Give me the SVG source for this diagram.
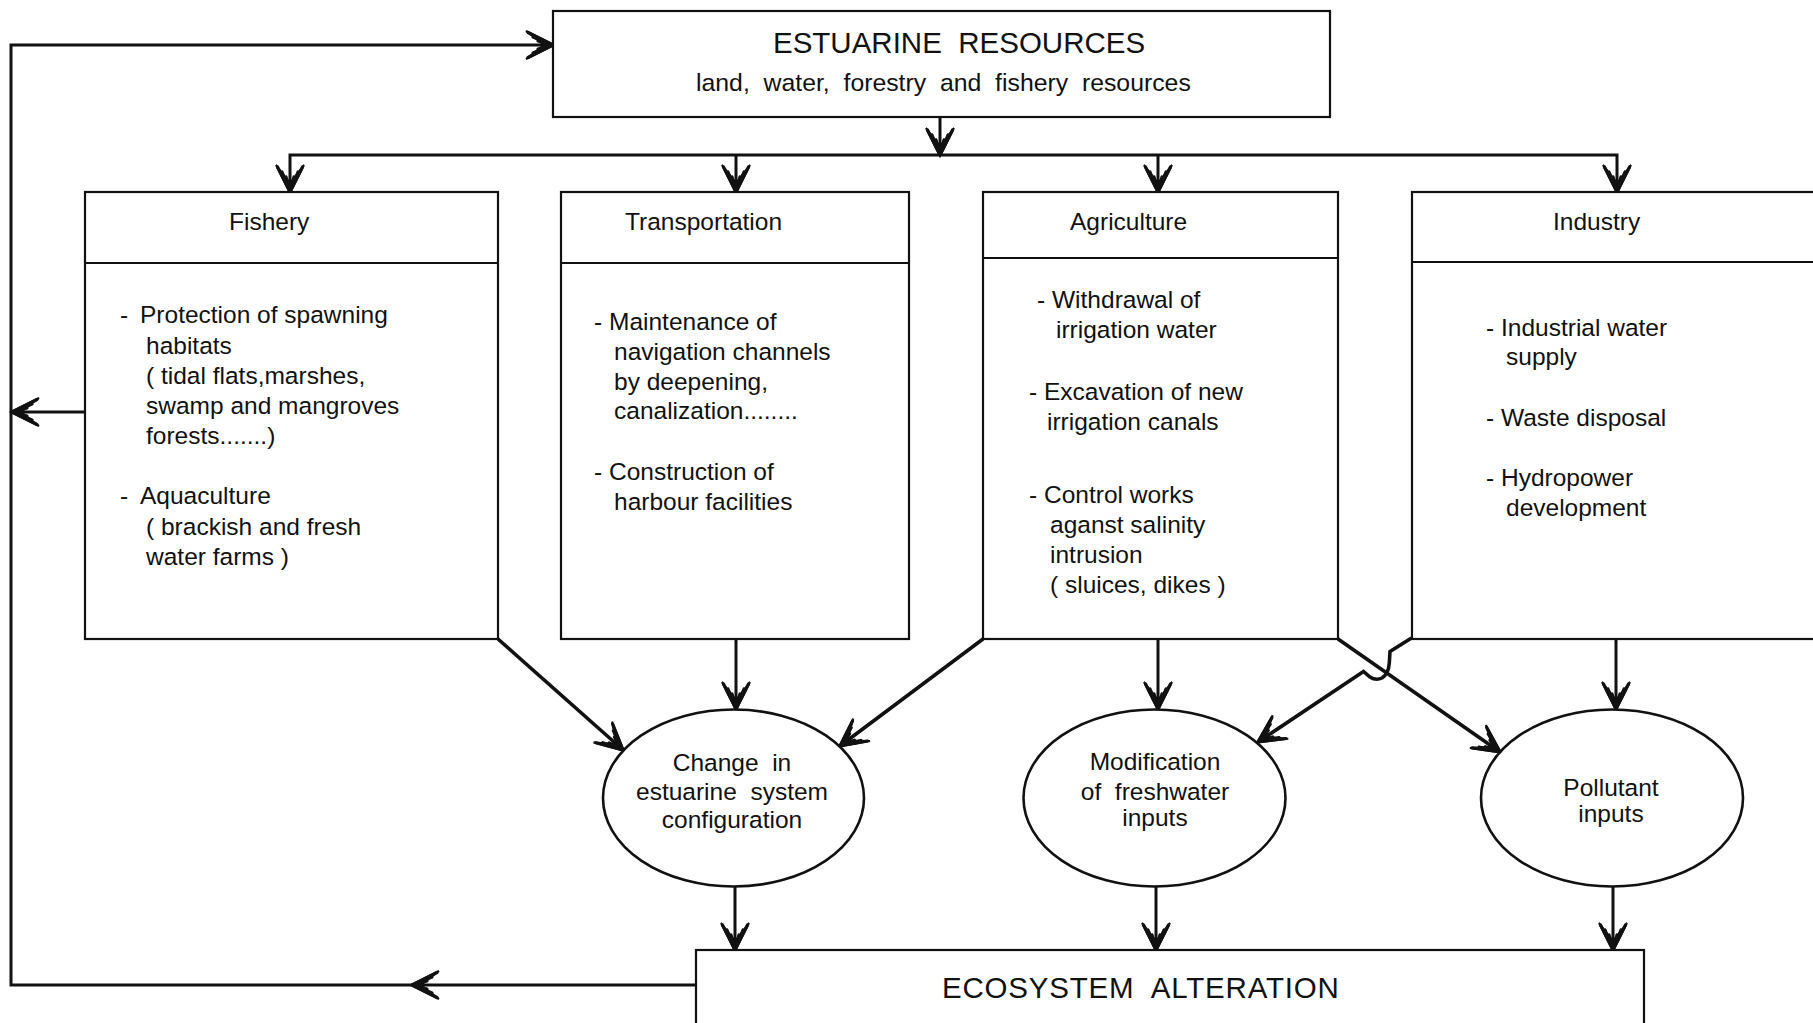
<svg xmlns="http://www.w3.org/2000/svg" width="1813" height="1023" viewBox="0 0 1813 1023">
  <style>
    text { font-family: "Liberation Sans", Arial, sans-serif; fill: #111; }
    .title { font-size: 29.5px; }
    .wide { letter-spacing: 0.8px; }
    .sub { font-size: 24.8px; }
    .head { font-size: 24.5px; }
    .body { font-size: 24.5px; }
    .oval-text { font-size: 24.5px; text-anchor: middle; }
    .box { fill: #fff; stroke: #111; stroke-width: 2.2; }
    .oval { fill: #fff; stroke: #111; stroke-width: 2.6; }
    .rule { stroke: #111; stroke-width: 2.2; fill: none; }
    .wire { stroke: #111; stroke-width: 3; fill: none; }
    .diag { stroke: #111; stroke-width: 3.6; fill: none; }
    .tip-body { fill: #111; stroke: #111; stroke-width: 2; stroke-linejoin: miter; }
    .tip-core { fill: none; stroke: #111; stroke-width: 3.2; stroke-linecap: round; }
  </style>
  <defs>
    <!-- barbed arrowhead with a notched back, tip at the origin pointing along +x -->
    <g id="tip">
      <path class="tip-body" fill="#111" d="M1,0 L-27,-14 L-9,0 L-27,14 Z"/>
      <path class="tip-core" d="M0,0 L-25,-12.5 M0,0 L-20,-8 M0,0 L-15,-4 M0,0 L-10,0 M0,0 L-15,4 M0,0 L-20,8 M0,0 L-25,12.5"/>
    </g>
  </defs>

  <rect width="1813" height="1023" fill="#fff"/>

  <!-- connectors -->
  <g id="connectors">
    <!-- feedback loop round the left side -->
    <path class="wire" d="M696,985 L11,985 L11,45 L545,45"/>
    <use href="#tip" transform="translate(553,45)"/>
    <use href="#tip" transform="translate(412,985) rotate(180)"/>
    <path class="wire" d="M85,412 L18,412"/>
    <use href="#tip" transform="translate(12,412) rotate(180)"/>

    <!-- distribution bar from the resources box -->
    <path class="wire" d="M940,117 L940,148"/>
    <use href="#tip" transform="translate(940,155) rotate(90)"/>
    <path class="wire" d="M290,186 L290,155 L1617,155 L1617,186"/>
    <use href="#tip" transform="translate(290,192) rotate(90)"/>
    <path class="wire" d="M736,155 L736,186"/>
    <use href="#tip" transform="translate(736,192) rotate(90)"/>
    <path class="wire" d="M1158,155 L1158,186"/>
    <use href="#tip" transform="translate(1158,192) rotate(90)"/>
    <use href="#tip" transform="translate(1617,192) rotate(90)"/>

    <!-- sectors to impacts -->
    <path class="diag" d="M498,639 L618,745.5"/>
    <use href="#tip" transform="translate(623,750) rotate(41.6)"/>
    <path class="wire" d="M736,639 L736,703"/>
    <use href="#tip" transform="translate(736,709) rotate(90)"/>
    <path class="diag" d="M983,639 L845,742.3"/>
    <use href="#tip" transform="translate(840,746) rotate(143.2)"/>
    <path class="wire" d="M1158,639 L1158,703"/>
    <use href="#tip" transform="translate(1158,709) rotate(90)"/>
    <path class="diag" d="M1338,639 L1495,748.5"/>
    <use href="#tip" transform="translate(1500,752) rotate(34.9)"/>
    <path class="diag" d="M1411.5,638 L1390,651.5 L1389.3,663 Q1388.5,674 1382,678 Q1376,681 1370,677 L1363.5,671.5 L1263,738.7"/>
    <use href="#tip" transform="translate(1258,742) rotate(146.25)"/>
    <path class="wire" d="M1616,639 L1616,703"/>
    <use href="#tip" transform="translate(1616,709) rotate(90)"/>

    <!-- impacts to ecosystem alteration -->
    <path class="wire" d="M735,887 L735,944"/>
    <use href="#tip" transform="translate(735,950) rotate(90)"/>
    <path class="wire" d="M1156,887 L1156,944"/>
    <use href="#tip" transform="translate(1156,950) rotate(90)"/>
    <path class="wire" d="M1613,887 L1613,944"/>
    <use href="#tip" transform="translate(1613,950) rotate(90)"/>
  </g>

  <!-- resources box -->
  <g id="estuarine-resources">
    <rect class="box" x="553" y="11" width="777" height="106"/>
    <text class="title" x="773" y="53" xml:space="preserve">ESTUARINE  RESOURCES</text>
    <text class="sub" x="696" y="91" xml:space="preserve">land,  water,  forestry  and  fishery  resources</text>
  </g>

  <!-- fishery -->
  <g id="fishery">
    <rect class="box" x="85" y="192" width="413" height="447"/>
    <line class="rule" x1="85" y1="263" x2="498" y2="263"/>
    <text class="head" x="229" y="230">Fishery</text>
    <text class="body" y="323"><tspan x="120">-</tspan><tspan x="140">Protection of spawning</tspan></text>
    <text class="body" x="146" y="354">habitats</text>
    <text class="body" x="146" y="384">( tidal flats,marshes,</text>
    <text class="body" x="146" y="414">swamp and mangroves</text>
    <text class="body" x="146" y="444">forests.......)</text>
    <text class="body" y="504"><tspan x="120">-</tspan><tspan x="140">Aquaculture</tspan></text>
    <text class="body" x="146" y="535">( brackish and fresh</text>
    <text class="body" x="146" y="565">water farms )</text>
  </g>

  <!-- transportation -->
  <g id="transportation">
    <rect class="box" x="561" y="192" width="348" height="447"/>
    <line class="rule" x1="561" y1="263" x2="909" y2="263"/>
    <text class="head" x="625" y="230">Transportation</text>
    <text class="body" y="330"><tspan x="594">-</tspan><tspan x="609">Maintenance of</tspan></text>
    <text class="body" x="614" y="360">navigation channels</text>
    <text class="body" x="614" y="390">by deepening,</text>
    <text class="body" x="614" y="419">canalization........</text>
    <text class="body" y="480"><tspan x="594">-</tspan><tspan x="609">Construction of</tspan></text>
    <text class="body" x="614" y="510">harbour facilities</text>
  </g>

  <!-- agriculture -->
  <g id="agriculture">
    <rect class="box" x="983" y="192" width="355" height="447"/>
    <line class="rule" x1="983" y1="258" x2="1338" y2="258"/>
    <text class="head" x="1070" y="230">Agriculture</text>
    <text class="body" y="308"><tspan x="1037">-</tspan><tspan x="1052">Withdrawal of</tspan></text>
    <text class="body" x="1056" y="338">irrigation water</text>
    <text class="body" y="400"><tspan x="1029">-</tspan><tspan x="1044">Excavation of new</tspan></text>
    <text class="body" x="1047" y="430">irrigation canals</text>
    <text class="body" y="503"><tspan x="1029">-</tspan><tspan x="1044">Control works</tspan></text>
    <text class="body" x="1050" y="533">aganst salinity</text>
    <text class="body" x="1050" y="563">intrusion</text>
    <text class="body" x="1050" y="593">( sluices, dikes )</text>
  </g>

  <!-- industry -->
  <g id="industry">
    <rect class="box" x="1412" y="192" width="420" height="447"/>
    <line class="rule" x1="1412" y1="262" x2="1832" y2="262"/>
    <text class="head" x="1553" y="230">Industry</text>
    <text class="body" y="336"><tspan x="1486">-</tspan><tspan x="1501">Industrial water</tspan></text>
    <text class="body" x="1506" y="365">supply</text>
    <text class="body" y="426"><tspan x="1486">-</tspan><tspan x="1501">Waste disposal</tspan></text>
    <text class="body" y="486"><tspan x="1486">-</tspan><tspan x="1501">Hydropower</tspan></text>
    <text class="body" x="1506" y="516">development</text>
  </g>

  <!-- impacts -->
  <g id="change-configuration">
    <ellipse class="oval" cx="733.5" cy="798" rx="130.5" ry="88.5"/>
    <text class="oval-text" x="732" y="771" xml:space="preserve">Change  in</text>
    <text class="oval-text" x="732" y="800" xml:space="preserve">estuarine  system</text>
    <text class="oval-text" x="732" y="828">configuration</text>
  </g>

  <g id="freshwater-inputs">
    <ellipse class="oval" cx="1154.5" cy="798" rx="131" ry="88.5"/>
    <text class="oval-text" x="1155" y="770">Modification</text>
    <text class="oval-text" x="1155" y="800" xml:space="preserve">of  freshwater</text>
    <text class="oval-text" x="1155" y="826">inputs</text>
  </g>

  <g id="pollutant-inputs">
    <ellipse class="oval" cx="1612" cy="798" rx="131" ry="88.5"/>
    <text class="oval-text" x="1611" y="796">Pollutant</text>
    <text class="oval-text" x="1611" y="822">inputs</text>
  </g>

  <!-- ecosystem alteration -->
  <g id="ecosystem-alteration">
    <rect class="box" x="696" y="950" width="948" height="100"/>
    <text class="title wide" x="942" y="998" xml:space="preserve">ECOSYSTEM  ALTERATION</text>
  </g>
</svg>
